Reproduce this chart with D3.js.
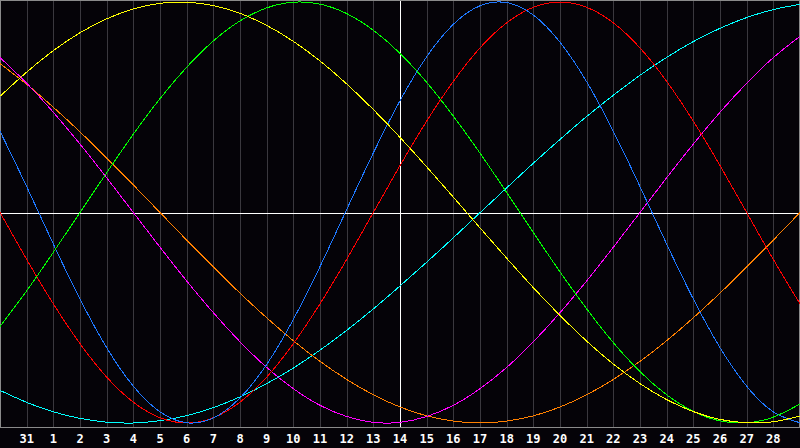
<!DOCTYPE html>
<html>
<head>
<meta charset="utf-8">
<script src="https://cdn.jsdelivr.net/npm/d3@7"></script>
<style>
  html, body { margin: 0; padding: 0; background: #050308; }
  svg { display: block; }
</style>
</head>
<body>
<div id="chart"></div>
<script>
// day labels under the grid (index 1..29), index 0 and 30 are the edges
const dayLabels = ["31", "1", "2", "3", "4", "5", "6", "7", "8", "9", "10", "11", "12", "13", "14",
    "15", "16", "17", "18", "19", "20", "21", "22", "23", "24", "25", "26", "27", "28"];
const todayIndex = 15;

// values at each day line (index 0..30), range -1..1
const blueVals = [0.386, 0.123, -0.150, -0.411, -0.642, -0.825, -0.947, -0.999, -0.976, -0.881, -0.722,
    -0.508, -0.257, 0.014, 0.283, 0.531, 0.740, 0.894, 0.982, 0.997, 0.938, 0.809, 0.621, 0.386, 0.123,
    -0.150, -0.411, -0.642, -0.825, -0.947, -0.999];
const redVals = [0, -0.223, -0.434, -0.623, -0.782, -0.901, -0.975, -1, -0.975, -0.901, -0.782,
    -0.623, -0.434, -0.223, 0, 0.223, 0.434, 0.623, 0.782, 0.901, 0.975, 1, 0.975, 0.901, 0.782,
    0.623, 0.434, 0.223, 0, -0.223, -0.434];
const greenVals = [-0.541, -0.372, -0.189, 0, 0.189, 0.372, 0.541, 0.690, 0.815, 0.910, 0.972,
    0.999, 0.990, 0.945, 0.866, 0.756, 0.618, 0.458, 0.282, 0.095, -0.095, -0.282, -0.458, -0.618,
    -0.756, -0.866, -0.945, -0.990, -0.999, -0.972, -0.910];
const magentaVals = [0.736, 0.614, 0.476, 0.325, 0.165, 0, -0.165, -0.325, -0.476, -0.614, -0.736,
    -0.837, -0.916, -0.969, -0.997, -0.997, -0.969, -0.916, -0.837, -0.736, -0.614, -0.476, -0.325,
    -0.165, 0, 0.165, 0.325, 0.476, 0.614, 0.736, 0.837];
const yellowVals = [0.552, 0.667, 0.769, 0.854, 0.920, 0.967, 0.994, 0.999, 0.983, 0.946, 0.889,
    0.813, 0.720, 0.611, 0.489, 0.357, 0.217, 0.073, -0.073, -0.217, -0.357, -0.489, -0.611, -0.720,
    -0.813, -0.889, -0.946, -0.983, -0.999, -0.994, -0.967];
const orangeVals = [0.707, 0.609, 0.5, 0.383, 0.259, 0.131, 0, -0.131, -0.259, -0.383, -0.5,
    -0.609, -0.707, -0.793, -0.866, -0.924, -0.966, -0.991, -1, -0.991, -0.966, -0.924, -0.866,
    -0.793, -0.707, -0.609, -0.5, -0.383, -0.259, -0.131, 0];
const cyanVals = [-0.845, -0.902, -0.947, -0.978, -0.996, -1, -0.989, -0.965, -0.927, -0.876, -0.813,
    -0.739, -0.654, -0.560, -0.458, -0.349, -0.236, -0.120, -0.001, 0.117, 0.234, 0.347, 0.456,
    0.557, 0.652, 0.737, 0.812, 0.875, 0.926, 0.964, 0.989];

const series = [
    { name: "cyan", color: "#00ffff", values: cyanVals },
    { name: "orange", color: "#ff8000", values: orangeVals },
    { name: "magenta", color: "#ff00ff", values: magentaVals },
    { name: "red", color: "#ff0000", values: redVals },
    { name: "blue", color: "#1e78ff", values: blueVals },
    { name: "green", color: "#00ff00", values: greenVals },
    { name: "yellow", color: "#ffff00", values: yellowVals }
];

const width = 800, height = 448;
const plotBottom = 427;

const svg = d3.select("#chart").append("svg")
    .attr("width", width)
    .attr("height", height)
    .style("background", "#050308");

const x = d3.scaleLinear().domain([0, 30]).range([0, width]);
const y = d3.scaleLinear().domain([-1, 1]).range([423, 2]);

// vertical day lines
svg.append("g")
    .selectAll("line")
    .data(d3.range(1, 30))
    .join("line")
    .attr("x1", d => Math.round(x(d)) + 0.5)
    .attr("x2", d => Math.round(x(d)) + 0.5)
    .attr("y1", 0)
    .attr("y2", plotBottom)
    .attr("stroke", d => d === todayIndex ? "#ffffff" : "#3a383e")
    .attr("stroke-width", 1)
    .attr("shape-rendering", "crispEdges");

// middle line
svg.append("line")
    .attr("x1", 0).attr("x2", width)
    .attr("y1", Math.round(y(0)) + 0.5).attr("y2", Math.round(y(0)) + 0.5)
    .attr("stroke", "#ffffff")
    .attr("shape-rendering", "crispEdges");

// frame
svg.append("rect")
    .attr("x", 0.5).attr("y", 0.5)
    .attr("width", width - 1).attr("height", plotBottom)
    .attr("fill", "none")
    .attr("stroke", "#8a8a8a")
    .attr("shape-rendering", "crispEdges");

// curves
const line = d3.line()
    .x((d, i) => x(i))
    .y(d => y(d))
    .curve(d3.curveNatural);

svg.append("g")
    .selectAll("path")
    .data(series)
    .join("path")
    .attr("d", d => line(d.values))
    .attr("fill", "none")
    .attr("stroke", d => d.color)
    .attr("stroke-width", 1)
    .attr("shape-rendering", "crispEdges");

// day labels
svg.append("g")
    .selectAll("text")
    .data(dayLabels)
    .join("text")
    .attr("x", (d, i) => x(i + 1))
    .attr("y", 443)
    .attr("text-anchor", "middle")
    .attr("fill", "#ffffff")
    .attr("font-family", "DejaVu Sans Mono, monospace")
    .attr("font-weight", "bold")
    .attr("font-size", "12px")
    .text(d => d);
</script>
</body>
</html>
